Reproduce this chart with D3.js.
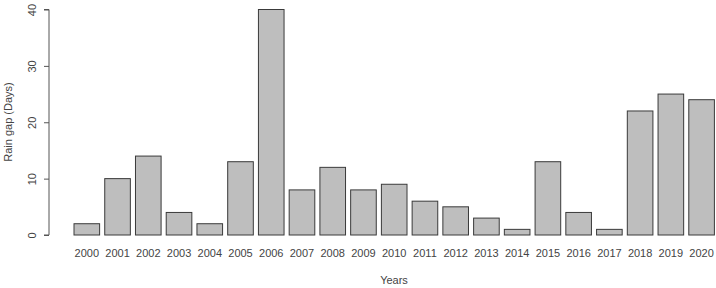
<!DOCTYPE html>
<html lang="en">
<head>
  <meta charset="UTF-8">
  <title>Rain gap by year</title>
  <script src="https://d3js.org/d3.v7.min.js"></script>
  <style>
    body { margin: 0; background: #fff; }
    text { font-family: "Liberation Sans", Arial, sans-serif; }
  </style>
</head>
<body>
  <div id="chart"></div>
  <script>
    // data
    const years = ["2000","2001","2002","2003","2004","2005","2006","2007","2008","2009","2010",
                   "2011","2012","2013","2014","2015","2016","2017","2018","2019","2020"];
    const rainGap = [2, 10, 14, 4, 2, 13, 40, 8, 12, 8, 9, 6, 5, 3, 1, 13, 4, 1, 22, 25, 24];
    const yTicks = [0, 10, 20, 30, 40];

    const width = 716, height = 288;
    const axisX = 49;

    const svg = d3.select("#chart").append("svg")
      .attr("width", width)
      .attr("height", height);

    const x = d3.scaleBand()
      .domain(years)
      .range([74, 714.4])
      .paddingInner(0.2 / 1.2)
      .paddingOuter(0);

    const y = d3.scaleLinear()
      .domain([0, 40])
      .range([235, 9.5]);

    // bars
    svg.append("g")
      .selectAll("rect")
      .data(years.map((yr, i) => ({ yr, v: rainGap[i] })))
      .join("rect")
        .attr("x", d => x(d.yr))
        .attr("y", d => y(d.v))
        .attr("width", x.bandwidth())
        .attr("height", d => y(0) - y(d.v))
        .attr("fill", "#bebebe")
        .attr("stroke", "#3a3a3a")
        .attr("stroke-width", 1);

    // y axis
    const yAxis = svg.append("g")
      .attr("transform", `translate(${axisX},0)`)
      .call(d3.axisLeft(y).tickValues(yTicks).tickSize(5).tickPadding(7));
    yAxis.select(".domain").attr("stroke", "#555").attr("d", `M-5,${y(0)}H0V${y(40)}H-5`);
    yAxis.selectAll(".tick line").attr("stroke", "#555");
    yAxis.selectAll(".tick text")
      .attr("fill", "#444")
      .style("font-size", "11px")
      .attr("transform", "rotate(-90)")
      .attr("text-anchor", "middle")
      .attr("x", null)
      .attr("dy", null)
      .each(function(d) {
        d3.select(this).attr("x", 0).attr("y", -13);
      });

    // x labels (no axis line, like R barplot)
    const xAxis = svg.append("g")
      .attr("transform", "translate(0,235)")
      .call(d3.axisBottom(x).tickSize(0).tickPadding(14));
    xAxis.select(".domain").remove();
    xAxis.selectAll(".tick text")
      .attr("fill", "#444")
      .style("font-size", "11px");

    // axis titles
    svg.append("text")
      .attr("x", 394)
      .attr("y", 284)
      .attr("text-anchor", "middle")
      .attr("fill", "#444")
      .style("font-size", "11px")
      .text("Years");

    svg.append("text")
      .attr("transform", `translate(12,122) rotate(-90)`)
      .attr("text-anchor", "middle")
      .attr("fill", "#444")
      .style("font-size", "11px")
      .text("Rain gap (Days)");
  </script>
</body>
</html>
